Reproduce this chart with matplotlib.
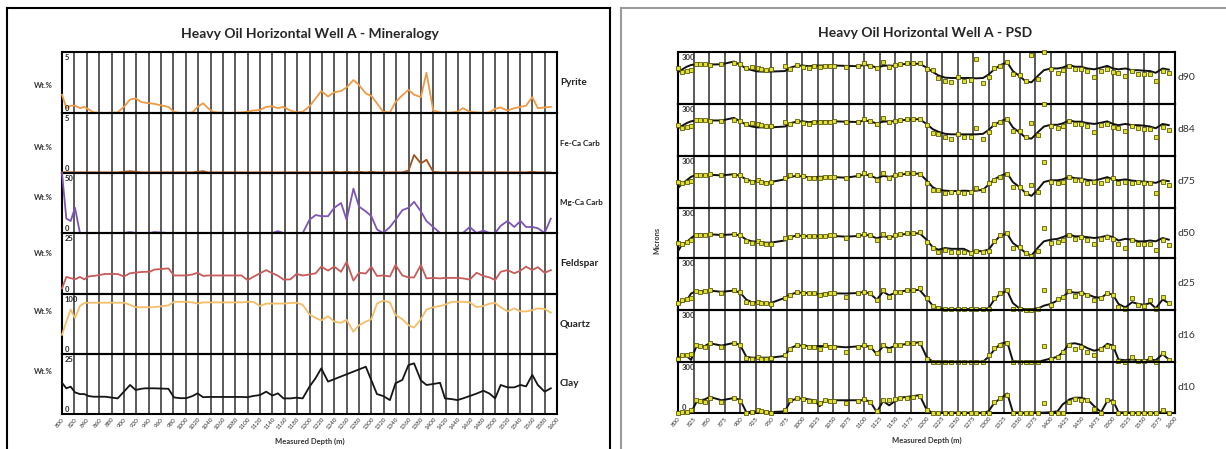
import numpy as np
import matplotlib
matplotlib.use('Agg')
import matplotlib.pyplot as plt
from matplotlib.lines import Line2D

plt.rcParams['font.family'] = ['Lato', 'DejaVu Sans']

# ---------------- data ----------------
depth = [800, 807, 814, 821, 829, 836, 843, 851, 870, 890,
         900, 910, 919, 928, 934, 942, 949, 972, 981, 991,
         1001, 1011, 1019, 1028, 1036, 1044, 1051, 1070, 1090, 1100,
         1109, 1120, 1130, 1140, 1149, 1158, 1169, 1179, 1189, 1200,
         1210, 1219, 1230, 1240, 1251, 1260, 1271, 1280, 1291, 1300,
         1309, 1319, 1330, 1339, 1350, 1360, 1369, 1380, 1389, 1400,
         1411, 1419, 1430, 1439, 1448, 1459, 1470, 1481, 1491, 1500,
         1509, 1520, 1531, 1541, 1550, 1560, 1569, 1580, 1590]

# Mineralogy (Wt.%)
pyrite = [1.5, 0.4, 0.6, 0.6, 0.4, 0.5, 0.3, 0.05, 0.0, 0.05,
          0.5, 1.1, 1.2, 0.9, 0.85, 0.8, 0.75, 0.5, 0.1, 0.0,
          0.0, 0.05, 0.5, 0.8, 0.4, 0.1, 0.05, 0.0, 0.05, 0.1,
          0.2, 0.25, 0.5, 0.55, 0.4, 0.5, 0.2, 0.05, 0.1, 0.55,
          1.2, 1.8, 1.35, 1.7, 1.8, 2.1, 2.7, 2.3, 1.6, 1.4,
          0.8, 0.1, 0.05, 0.9, 1.45, 1.9, 1.5, 1.3, 3.3, 0.2,
          0.05, 0.0, 0.05, 0.1, 0.4, 0.1, 0.05, 0.0, 0.05, 0.35,
          0.45, 0.2, 0.4, 0.5, 0.6, 1.3, 0.4, 0.45, 0.5]
fe_ca_carb = [0.05, 0.05, 0.05, 0.05, 0.05, 0.05, 0.05, 0.05, 0.05, 0.05,
              0.1, 0.15, 0.1, 0.05, 0.05, 0.05, 0.05, 0.05, 0.05, 0.05,
              0.05, 0.05, 0.1, 0.15, 0.05, 0.05, 0.05, 0.05, 0.05, 0.05,
              0.05, 0.05, 0.05, 0.05, 0.05, 0.05, 0.05, 0.05, 0.05, 0.05,
              0.05, 0.05, 0.05, 0.1, 0.05, 0.1, 0.05, 0.1, 0.05, 0.1,
              0.05, 0.05, 0.05, 0.05, 0.05, 0.2, 1.5, 0.8, 1.1, 0.1,
              0.05, 0.05, 0.05, 0.05, 0.05, 0.05, 0.05, 0.05, 0.05, 0.05,
              0.05, 0.05, 0.05, 0.05, 0.05, 0.1, 0.05, 0.05, 0.05]
mg_ca_carb = [50, 12, 10, 21, 0, 0, 0, 0, 0, 0,
              0, 0.8, 0, 0, 0, 0, 0.8, 0, 0, 0,
              0, 0, 0, 0, 0, 0, 0, 0, 0, 0,
              0, 0, 0, 0, 1.5, 0, 0, 0, 0, 11,
              15, 14, 14, 21, 25, 11, 37, 22, 18, 14,
              3, 0, 5, 11, 19, 21, 26, 18, 10, 5,
              0, 0, 0, 0, 0, 5, 0, 2, 0, 0,
              6, 10, 5, 10, 5, 5, 4, 0, 12]
feldspar = [2.3, 7.0, 6.5, 6.0, 7.0, 6.0, 7.2, 7.4, 8.2, 8.2,
            7.2, 8.5, 8.8, 9.0, 9.1, 9.1, 10.0, 10.5, 7.6, 7.6,
            7.6, 8.0, 8.7, 7.4, 7.6, 7.6, 7.6, 7.6, 7.6, 5.7,
            7.0, 8.5, 9.8, 8.5, 7.5, 5.9, 6.0, 8.2, 7.6, 8.0,
            8.5, 11.2, 9.6, 11.2, 9.1, 13.2, 5.5, 8.7, 8.4, 11.2,
            7.4, 7.6, 7.2, 11.9, 7.6, 6.8, 6.8, 11.9, 6.4, 6.6,
            6.4, 6.6, 6.6, 6.6, 6.4, 5.9, 8.7, 7.4, 6.8, 5.7,
            9.1, 9.8, 8.5, 9.6, 11.2, 9.8, 11.0, 8.7, 9.8]
quartz = [32, 54, 74, 60, 80, 85, 85.5, 85.5, 85.5, 85.5,
          85.5, 82, 78, 78, 78, 78, 78, 81, 87, 87,
          87, 86, 84, 86, 86, 86, 86, 86, 86, 87,
          87, 80, 84, 84, 84, 84, 85, 85.5, 82, 66,
          60, 56, 63, 54, 52, 57, 37, 48, 54, 58,
          84, 89, 86, 65, 58, 48, 44, 58, 74, 78,
          80, 82, 87, 87, 87, 86, 78, 80, 84, 85,
          78, 71, 76, 71, 71, 73, 76, 75, 69]
clay = [13, 10.7, 11.4, 9, 8.3, 8.3, 7.5, 7.2, 7.2, 6.5,
        9.3, 12.1, 10, 10.5, 10.7, 10.7, 10.7, 10.5, 6.9, 6.6,
        6.6, 7.5, 8.6, 7.0, 7.1, 7.1, 7.1, 7.1, 7.1, 7.0,
        7.5, 7.9, 9.3, 7.7, 8.6, 6.5, 6.5, 6.8, 6.5, 11.4,
        15, 19, 13.5, None, None, None, None, None, 19.7, 14,
        8.3, 7.5, 5.8, 12.8, 14.2, 20.4, 21.1, 14, 12.1, 12.5,
        13, 6.5, 6.2, 5.8, 6.5, 7.5, 8.5, 9.7, 8.5, 6.5,
        12.1, 11.1, 11.1, 12.1, 11.5, 16.3, 12.1, 9.3, 10.7]

mineral_names = ['Pyrite', 'Fe-Ca Carb', 'Mg-Ca Carb', 'Feldspar', 'Quartz', 'Clay']
mineral_max = [5, 5, 50, 25, 100, 25]
mineral_ticks = [800 + 20 * i for i in range(41)]

# PSD (microns): square markers = sample points, line = second curve
d90_pts = [209, 183, 190, 196, 229, 229, 229, 225, 229, 235,
           229, 210, 215, 210, 202, 196, 202, 221, 202, 225,
           215, 206, 221, 215, 221, 221, 221, 215, 221, 235,
           221, 206, 240, 215, 225, 229, 235, 235, 235, 202,
           196, 152, 133, 125, 158, 133, 138, 260, 119, 158,
           209, 221, 240, 171, 167, 133, 283, 142, 300, 202,
           177, 196, 221, 202, 202, 190, 158, 190, 202, 183,
           177, 163, 190, 171, 171, 171, 133, 190, 177]
d90_line = [183, 200, 215, 225, 229, 229, 229, 228, 229, 245,
            225, 205, 195, 188, 187, 187, 187, 190, 210, 220,
            222, 218, 220, 222, 222, 222, 222, 220, 218, 225,
            222, 210, 220, 222, 220, 228, 232, 232, 232, 210,
            185, 165, 152, 150, 150, 150, 150, 148, 150, 170,
            200, 225, 240, 190, 160, 130, 125, 165, 195, 205,
            205, 210, 225, 215, 215, 205, 200, 210, 220, 205,
            200, 205, 195, 195, 192, 190, 180, 205, 198]
d84_pts = [179, 163, 169, 175, 208, 208, 208, 202, 202, 208,
           202, 183, 188, 183, 180, 175, 175, 194, 183, 202,
           190, 183, 198, 198, 198, 198, 202, 194, 194, 213,
           202, 183, 217, 194, 202, 208, 213, 213, 213, 179,
           131, 125, 111, 98, 125, 111, 111, 163, 98, 137,
           183, 194, 213, 144, 144, 111, 188, 121, 298, 175,
           160, 175, 202, 183, 183, 175, 140, 179, 183, 169,
           160, 144, 175, 160, 156, 156, 111, 169, 150]
d84_line = [160, 175, 190, 200, 205, 205, 205, 205, 205, 220,
            200, 180, 170, 165, 165, 165, 165, 170, 190, 198,
            200, 195, 198, 200, 200, 200, 200, 198, 196, 205,
            200, 188, 198, 200, 200, 205, 210, 212, 212, 185,
            155, 140, 128, 125, 125, 125, 125, 125, 128, 150,
            180, 200, 215, 165, 135, 105, 100, 140, 170, 180,
            180, 188, 205, 198, 198, 190, 185, 192, 200, 185,
            178, 185, 178, 178, 175, 170, 160, 185, 178]
d75_pts = [152, 143, 152, 155, 190, 190, 190, 196, 190, 190,
           190, 162, 152, 162, 150, 146, 152, 171, 190, 190,
           185, 171, 171, 171, 177, 180, 181, 171, 190, 200,
           190, 162, 200, 171, 190, 196, 200, 200, 196, 146,
           104, 104, 88, 94, 94, 88, 94, 113, 104, 146,
           162, 181, 196, 119, 119, 88, 130, 94, 267, 152,
           146, 152, 181, 162, 162, 146, 152, 146, 162, 171,
           146, 152, 146, 152, 146, 146, 88, 152, 133]
d75_line = [115, 140, 160, 180, 190, 190, 190, 192, 188, 195,
            185, 165, 155, 155, 150, 148, 150, 165, 180, 185,
            182, 178, 178, 180, 180, 180, 178, 175, 185, 192,
            188, 170, 185, 180, 185, 192, 198, 198, 198, 160,
            120, 105, 100, 98, 98, 100, 98, 100, 105, 135,
            165, 185, 200, 150, 120, 85, 70, 110, 150, 160,
            160, 165, 180, 172, 170, 162, 158, 168, 178, 165,
            160, 165, 158, 155, 152, 150, 145, 160, 155]
d50_pts = [92, 84, 98, 110, 138, 138, 140, 144, 138, 144,
           138, 104, 88, 104, 90, 84, 84, 118, 124, 138,
           135, 132, 132, 132, 135, 138, 138, 118, 138, 144,
           138, 108, 144, 124, 138, 144, 148, 152, 158, 98,
           58, 38, 48, 38, 38, 38, 32, 44, 38, 44,
           104, 138, 148, 58, 64, 28, 12, 44, 178, 92,
           98, 108, 138, 112, 124, 108, 84, 112, 128, 112,
           84, 58, 108, 84, 84, 84, 48, 108, 78]
d50_line = [40, 85, 95, 120, 140, 140, 140, 142, 138, 142,
            135, 110, 100, 98, 95, 92, 92, 105, 125, 135,
            133, 130, 130, 132, 132, 132, 132, 128, 132, 140,
            135, 118, 130, 125, 130, 140, 145, 148, 148, 110,
            65, 50, 60, 55, 55, 55, 35, 40, 42, 50,
            95, 135, 145, 90, 60, 30, 15, 65, 100, 110,
            115, 125, 140, 130, 130, 125, 120, 125, 135, 125,
            105, 115, 110, 100, 100, 105, 100, 120, 110]
d25_pts = [38, 58, 62, 70, 111, 106, 108, 115, 100, 115,
           106, 48, 38, 48, 40, 38, 35, 67, 87, 106,
           100, 96, 96, 87, 95, 100, 96, 77, 100, 106,
           100, 58, 115, 77, 106, 106, 115, 115, 125, 67,
           23, 10, 8, 8, 8, 8, 8, 8, 8, 8,
           67, 100, 115, 8, 8, 0, 0, 8, 115, 29,
           62, 73, 111, 81, 100, 87, 58, 67, 96, 87,
           15, 8, 67, 29, 23, 58, 8, 73, 38]
d25_line = [30, 50, 55, 95, 108, 108, 110, 112, 105, 112,
            100, 60, 45, 45, 42, 40, 40, 70, 90, 100,
            100, 98, 95, 92, 95, 98, 96, 95, 98, 105,
            95, 60, 105, 85, 98, 108, 112, 115, 115, 70,
            25, 10, 5, 5, 5, 5, 5, 5, 5, 10,
            60, 95, 110, 40, 8, 5, 5, 10, 25, 35,
            55, 75, 105, 100, 100, 90, 75, 70, 95, 90,
            35, 15, 45, 35, 30, 40, 10, 60, 40]
d16_pts = [16, 40, 40, 45, 98, 90, 85, 108, 85, 108,
           98, 21, 16, 31, 20, 16, 21, 40, 73, 98,
           95, 85, 85, 73, 98, 85, 85, 60, 85, 98,
           85, 50, 98, 69, 98, 98, 108, 108, 111, 20,
           2, 2, 2, 2, 2, 2, 2, 2, 2, 40,
           79, 98, 108, 2, 2, 2, 2, 2, 92, 16,
           31, 60, 98, 73, 88, 60, 40, 73, 92, 85,
           8, 2, 27, 8, 8, 21, 2, 54, 12]
d16_line = [16, 40, 35, 12, 85, 90, 92, 108, 95, 110,
            98, 30, 25, 25, 25, 25, 25, 35, 80, 95,
            95, 92, 92, 92, 92, 92, 90, 85, 90, 92,
            90, 45, 90, 80, 92, 98, 105, 108, 115, 30,
            2, 2, 2, 2, 2, 2, 2, 2, 2, 30,
            70, 105, 115, 5, 2, 2, 2, 2, 10, 20,
            30, 55, 105, 108, 100, 80, 65, 75, 105, 95,
            15, 10, 15, 10, 10, 15, 10, 45, 15]
d10_pts = [2, 8, 8, 15, 75, 70, 67, 91, 67, 86,
           71, 2, 8, 17, 10, 8, 2, 17, 75, 86,
           80, 71, 71, 56, 75, 71, 71, 60, 71, 80,
           67, 13, 75, 75, 80, 91, 91, 95, 98, 17,
           2, 2, 2, 2, 2, 2, 2, 2, 2, 2,
           67, 86, 104, 2, 2, 2, 2, 2, 56, 2,
           2, 2, 67, 83, 79, 75, 21, 2, 75, 67,
           2, 2, 2, 2, 2, 2, 2, 17, 2]
d10_line = [2, 5, 8, 2, 60, 75, 80, 95, 75, 88,
            78, 5, 8, 8, 8, 8, 5, 10, 70, 85,
            85, 80, 75, 40, 75, 75, 75, 75, 75, 75,
            70, 5, 70, 45, 70, 90, 95, 100, 105, 20,
            2, 2, 2, 2, 2, 2, 2, 2, 2, 10,
            60, 85, 115, 5, 2, 2, 2, 2, 2, 5,
            10, 50, 80, 90, 90, 80, 40, 5, 70, 75,
            5, 2, 2, 2, 2, 2, 2, 5, 2]

psd_names = ['d90', 'd84', 'd75', 'd50', 'd25', 'd16', 'd10']
psd_ticks = [800 + 25 * i for i in range(33)]

# ---------------- layout helpers ----------------
W, H = 1226, 449
fig = plt.figure(figsize=(W / 100, H / 100), dpi=100)
fig.patch.set_facecolor('white')


def rect(x0, x1, y0, y1):
    return [x0 / W, 1 - y1 / H, (x1 - x0) / W, (y1 - y0) / H]


def fx(x):
    return x / W


def fy(y):
    return 1 - y / H


def style_axes(ax, ticks, bottom):
    ax.set_facecolor('none')
    ax.set_xlim(800, 1600)
    ax.set_xticks(ticks)
    ax.set_yticks([])
    ax.grid(axis='x', color='#5a5a5a', linewidth=1.4)
    ax.set_axisbelow(True)
    ax.tick_params(axis='x', length=0, labelbottom=bottom, labelsize=4.5,
                   pad=2, labelrotation=50)
    if bottom:
        for lab in ax.get_xticklabels():
            lab.set_horizontalalignment('right')
            lab.set_rotation_mode('anchor')
            lab.set_color('#333333')
    for s in ax.spines.values():
        s.set_color('black')
        s.set_linewidth(1.5)


# ---------------- frames ----------------
fig.add_artist(Line2D([fx(7), fx(7)], [0, fy(8)], color='black', lw=1.5))
fig.add_artist(Line2D([fx(7), fx(610)], [fy(8), fy(8)], color='black', lw=1.5))
fig.add_artist(Line2D([fx(610), fx(610)], [0, fy(8)], color='black', lw=1.5))
fig.add_artist(Line2D([fx(621), fx(621)], [0, fy(8)], color='#9a9a9a', lw=1.5))
fig.add_artist(Line2D([fx(621), fx(1226)], [fy(8), fy(8)], color='#9a9a9a', lw=1.5))

# ---------------- mineralogy panel ----------------
mineral_series = [pyrite, fe_ca_carb, mg_ca_carb, feldspar, quartz, clay]
mineral_colors = ['#EE9A45', '#A2521E', '#7D55B5', '#C95B5B', '#F4BE68', '#151515']
left_rows = [(52, 113), (113, 173), (173, 233), (233, 294), (294, 354), (354, 414)]
wt_y = [85, 147, 197, 253, 312, 372]
lab_fs = [7.2, 5.8, 5.8, 7.2, 7.2, 7.2]
dep = np.array(depth, dtype=float)

for i, (name, vals, col, ymax, (t, b)) in enumerate(
        zip(mineral_names, mineral_series, mineral_colors, mineral_max, left_rows)):
    ax = fig.add_axes(rect(62, 557, t, b))
    style_axes(ax, mineral_ticks, i == len(mineral_names) - 1)
    ax.set_ylim(0, ymax)
    v = np.array([np.nan if x is None else x for x in vals], dtype=float)
    m = ~np.isnan(v)
    ax.plot(dep[m], v[m], color=col, lw=1.3, clip_on=False, zorder=3)
    ax.text(0.006, 0.97, str(ymax), transform=ax.transAxes, ha='left', va='top',
            fontsize=5.5, fontweight='bold', color='#222222', zorder=5)
    ax.text(0.006, 0.02, '0', transform=ax.transAxes, ha='left', va='bottom',
            fontsize=5.5, fontweight='bold', color='#222222', zorder=5)
    fig.text(fx(560), fy((t + b) / 2), name, ha='left', va='center',
             fontsize=lab_fs[i], fontweight='bold', color='#222222')
    fig.text(fx(43), fy(wt_y[i]), 'Wt.%', ha='center', va='center',
             fontsize=5.5, fontweight='bold', color='#333333')
    if i == len(mineral_names) - 1:
        ax.set_xlabel('Measured Depth (m)', fontsize=5.5, fontweight='bold',
                      color='#333333', labelpad=5)

fig.text(fx(310), fy(34), 'Heavy Oil Horizontal Well A - Mineralogy', ha='center',
         va='center', fontsize=10, fontweight='bold', color='#262626')

# ---------------- PSD panel ----------------
psd_pts = [d90_pts, d84_pts, d75_pts, d50_pts, d25_pts, d16_pts, d10_pts]
psd_lines = [d90_line, d84_line, d75_line, d50_line, d25_line, d16_line, d10_line]
right_rows = [(52, 104), (104, 156), (156, 208), (208, 258), (258, 310), (310, 362), (362, 413)]

for i, (name, pts, ln, (t, b)) in enumerate(zip(psd_names, psd_pts, psd_lines, right_rows)):
    ax = fig.add_axes(rect(678, 1175, t, b))
    style_axes(ax, psd_ticks, i == len(psd_names) - 1)
    ax.set_ylim(0, 300)
    ax.plot(dep, ln, color='#111111', lw=1.4, clip_on=False, zorder=3)
    ax.plot(dep, pts, linestyle='none', marker='s', markersize=3.1,
            markerfacecolor='#E2E22A', markeredgecolor='#5c5c0a', markeredgewidth=0.6,
            clip_on=False, zorder=4)
    ax.text(0.008, 0.97, '300', transform=ax.transAxes, ha='left', va='top',
            fontsize=5.5, fontweight='bold', color='#333333', zorder=2)
    if i == len(psd_names) - 1:
        ax.text(0.008, 0.03, '0', transform=ax.transAxes, ha='left', va='bottom',
                fontsize=5.5, fontweight='bold', color='#333333', zorder=2)
        ax.set_xlabel('Measured Depth (m)', fontsize=5.5, fontweight='bold',
                      color='#333333', labelpad=5)
    fig.text(fx(1178), fy((t + b) / 2), name, ha='left', va='center',
             fontsize=7.5, color='#333333')

fig.text(fx(657), fy(240), 'Microns', rotation=90, ha='center', va='center',
         fontsize=5.3, fontweight='bold', color='#333333')
fig.text(fx(925), fy(33), 'Heavy Oil Horizontal Well A - PSD', ha='center',
         va='center', fontsize=10, fontweight='bold', color='#262626')

fig.savefig('out.png', dpi=100, facecolor='white')
